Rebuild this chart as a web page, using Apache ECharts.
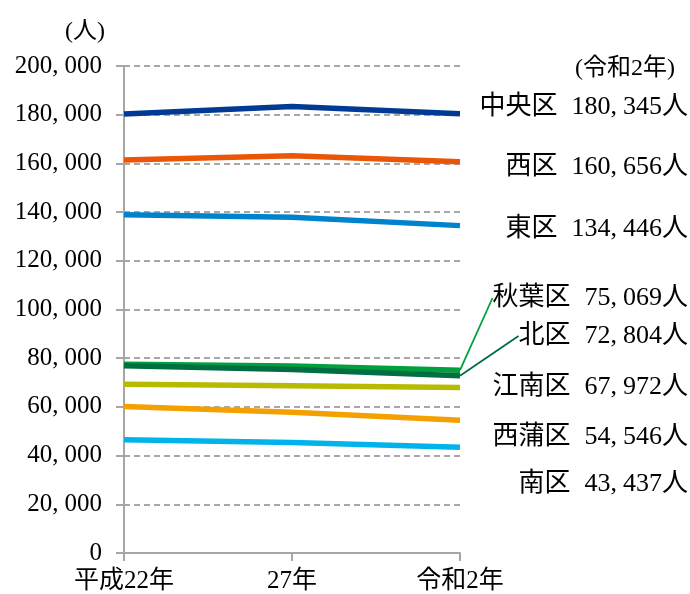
<!DOCTYPE html>
<html>
<head>
<meta charset="utf-8">
<script src="https://cdn.jsdelivr.net/npm/echarts@6/dist/echarts.min.js"></script>
<style>
  html, body { margin: 0; padding: 0; background: #fff; }
  #chart { width: 690px; height: 594px; }
</style>
</head>
<body>
<div id="chart"></div>
<script>
// Census years on the x axis
const years = ['平成22年', '27年', '令和2年'];

// Population by ward (persons)
const wards = ['中央区', '西区', '東区', '秋葉区', '北区', '江南区', '西蒲区', '南区'];
const chuo    = [180300, 183400, 180345];
const nishi   = [161400, 163100, 160656];
const higashi = [138900, 137900, 134446];
const akiha   = [77500, 76800, 75069];
const kita    = [76900, 75400, 72804];
const konan   = [69300, 68700, 67972];
const nishikan = [60200, 57800, 54546];
const minami  = [46500, 45400, 43437];

// Y axis ticks
const yTicks = [0, 20000, 40000, 60000, 80000, 100000, 120000, 140000, 160000, 180000, 200000];

const values = [chuo, nishi, higashi, akiha, kita, konan, nishikan, minami];

// Styling
const colors = ['#003a94', '#ea5506', '#0083cd', '#00a03e', '#006e43', '#b7bb00', '#f4a000', '#00b3ea'];
const labelRowY = [107, 167, 229, 298, 336, 387, 437, 484];
const withLeader = [false, false, false, true, true, false, false, false];
const FONT = "'Liberation Serif', 'Noto Sans CJK JP', serif";

// Thousands-separated number as rich text, giving the comma a half-width cell
const richNum = (v, style) =>
  v.toLocaleString('en-US').split(',').map(part => `{${style}|${part}}`).join(`{${style}c|,}`);

const axisRich = {
  d: { fontFamily: FONT, fontSize: 25, color: '#000' },
  dc: { fontFamily: FONT, fontSize: 25, color: '#000', padding: [0, 6, 0, 0] }
};
const endRich = {
  n: { fontFamily: FONT, fontSize: 26, color: '#000', padding: [0, 14, 0, 0] },
  e: { fontFamily: FONT, fontSize: 26, color: '#000' },
  ec: { fontFamily: FONT, fontSize: 26, color: '#000', padding: [0, 6, 0, 0] }
};

const series = wards.map((name, i) => {
  const last = values[i].length - 1;
  return {
    type: 'line',
    name: name,
    data: values[i].map((v, j) => j === last ? { value: v, label: { show: true } } : v),
    symbol: 'circle',
    symbolSize: 0.1,
    showSymbol: true,
    lineStyle: { color: colors[i], width: 5.5 },
    itemStyle: { color: colors[i] },
    emphasis: { disabled: true },
    silent: true,
    z: 2 + i,
    label: {
      show: false,
      formatter: p => `{n|${name}}${richNum(p.value, 'e')}{e|人}`,
      rich: endRich
    },
    labelLayout: { x: 688, y: labelRowY[i], align: 'right', verticalAlign: 'middle' },
    labelLine: withLeader[i] ? { show: true, lineStyle: { color: colors[i], width: 1.8 } } : { show: false }
  };
});

const chart = echarts.init(document.getElementById('chart'), null, { renderer: 'canvas' });
chart.setOption({
  animation: false,
  backgroundColor: '#fff',
  title: [
    { text: '(人)', left: 60, top: 15, textStyle: { fontFamily: FONT, fontSize: 24, fontWeight: 'normal', color: '#000' } },
    { text: '(令和2年)', right: 10, top: 52, textStyle: { fontFamily: FONT, fontSize: 24, fontWeight: 'normal', color: '#000' } }
  ],
  grid: { left: 124, right: 230, top: 66, bottom: 41, containLabel: false, outerBoundsMode: 'none' },
  xAxis: {
    type: 'category',
    data: years,
    boundaryGap: false,
    axisLine: { lineStyle: { color: '#a6a6a6', width: 2 } },
    axisTick: { show: true, length: 8, lineStyle: { color: '#a6a6a6', width: 2 } },
    axisLabel: { fontFamily: FONT, fontSize: 25, color: '#000', margin: 16 },
    splitLine: { show: false }
  },
  yAxis: {
    type: 'value',
    min: yTicks[0],
    max: yTicks[yTicks.length - 1],
    interval: yTicks[1] - yTicks[0],
    axisLine: { show: true, lineStyle: { color: '#a6a6a6', width: 2 } },
    axisTick: { show: true, length: 8, lineStyle: { color: '#a6a6a6', width: 2 } },
    axisLabel: {
      margin: 22,
      formatter: v => richNum(v, 'd'),
      rich: axisRich
    },
    splitLine: { show: true, lineStyle: { color: '#8c8c8c', width: 1.5, type: [6, 4] } }
  },
  series: series
});
</script>
</body>
</html>
